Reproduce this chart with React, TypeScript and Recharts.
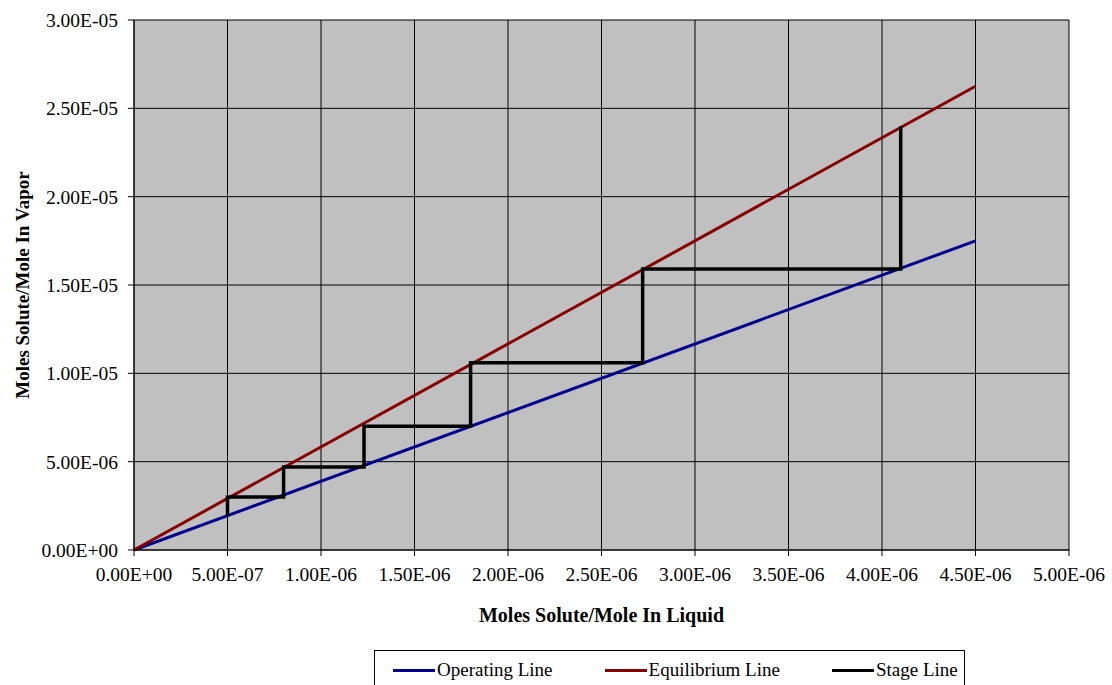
import {
  LineChart, Line, XAxis, YAxis, CartesianGrid, Legend, Label
} from 'recharts';

const xTicks = [0, 5e-7, 1e-6, 1.5e-6, 2e-6, 2.5e-6, 3e-6, 3.5e-6, 4e-6, 4.5e-6, 5e-6];
const yTicks = [0, 5e-6, 1e-5, 1.5e-5, 2e-5, 2.5e-5, 3e-5];

const operatingX = [0, 4.5e-6];
const operatingY = [0, 1.75e-5];

const equilibriumX = [0, 4.5e-6];
const equilibriumY = [0, 2.625e-5];

const stageX = [4.1e-6, 4.1e-6, 2.72e-6, 2.72e-6, 1.8e-6, 1.8e-6, 1.23e-6, 1.23e-6, 0.8e-6, 0.8e-6, 0.5e-6, 0.5e-6];
const stageY = [2.4e-5, 1.59e-5, 1.59e-5, 1.06e-5, 1.06e-5, 7.0e-6, 7.0e-6, 4.7e-6, 4.7e-6, 3.0e-6, 3.0e-6, 1.95e-6];

const series = [
  { name: 'Operating Line', color: '#000090', xs: operatingX, ys: operatingY, width: 3 },
  { name: 'Equilibrium Line', color: '#880000', xs: equilibriumX, ys: equilibriumY, width: 3 },
  { name: 'Stage Line', color: '#000000', xs: stageX, ys: stageY, width: 3.5 },
];

function sci(v: number) {
  if (v === 0) return '0.00E+00';
  const [m, e] = v.toExponential(2).split('e');
  const n = parseInt(e, 10);
  const sign = n < 0 ? '-' : '+';
  return `${m}E${sign}${String(Math.abs(n)).padStart(2, '0')}`;
}

const font = '"Liberation Serif", "Times New Roman", serif';
const tickStyle = { fill: '#000', fontSize: 19.5, fontFamily: font };

function LegendBox() {
  return (
    <div style={{
      border: '1px solid #000', width: 591, height: 40, boxSizing: 'border-box',
      display: 'flex', alignItems: 'center', paddingLeft: 18,
      fontFamily: font, fontSize: 19, color: '#000', background: '#fff',
    }}>
      {series.map((s, i) => (
        <div key={s.name} style={{ display: 'flex', alignItems: 'center', marginLeft: i === 0 ? 0 : 52 }}>
          <span style={{ display: 'inline-block', width: 42, height: 3, background: s.color }} />
          <span style={{ marginLeft: 2 }}>{s.name}</span>
        </div>
      ))}
    </div>
  );
}

export default function App() {
  const lineData = series.map(s => ({
    ...s,
    data: s.xs.map((x, i) => ({ x, y: s.ys[i] })),
  }));

  return (
    <div style={{ position: 'absolute', left: 0, top: 0, background: '#fff' }}>
      <LineChart width={1112} height={685} margin={{ top: 20, right: 43, left: 0, bottom: 15 }}>
        <CartesianGrid stroke="#000" strokeWidth={1} fill="#C0C0C0" fillOpacity={1} />
        <XAxis
          dataKey="x" type="number" domain={[0, 5e-6]} ticks={xTicks}
          tickFormatter={sci} tick={tickStyle} tickSize={6} tickMargin={11}
          stroke="#000" height={80} allowDuplicatedCategory={false}
        >
          <Label
            value="Moles Solute/Mole In Liquid" position="insideBottom" offset={8}
            style={{ fontFamily: font, fontSize: 20, fontWeight: 'bold', fill: '#000' }}
          />
        </XAxis>
        <YAxis
          dataKey="y" type="number" domain={[0, 3e-5]} ticks={yTicks}
          tickFormatter={sci} tick={tickStyle} tickSize={6} tickMargin={10}
          stroke="#000" width={134}
        >
          <Label
            value="Moles Solute/Mole In Vapor" angle={-90} position="insideLeft" offset={22}
            style={{ fontFamily: font, fontSize: 19, fontWeight: 'bold', fill: '#000', textAnchor: 'middle' }}
          />
        </YAxis>
        {lineData.map(s => (
          <Line
            key={s.name} data={s.data} dataKey="y" name={s.name}
            stroke={s.color} strokeWidth={s.width} dot={false}
            isAnimationActive={false} type="linear"
          />
        ))}
        <Legend
          verticalAlign="bottom" align="center"
          content={() => <LegendBox />}
          wrapperStyle={{ left: 374, width: 591, bottom: 'auto', top: 650 }}
        />
      </LineChart>
    </div>
  );
}
